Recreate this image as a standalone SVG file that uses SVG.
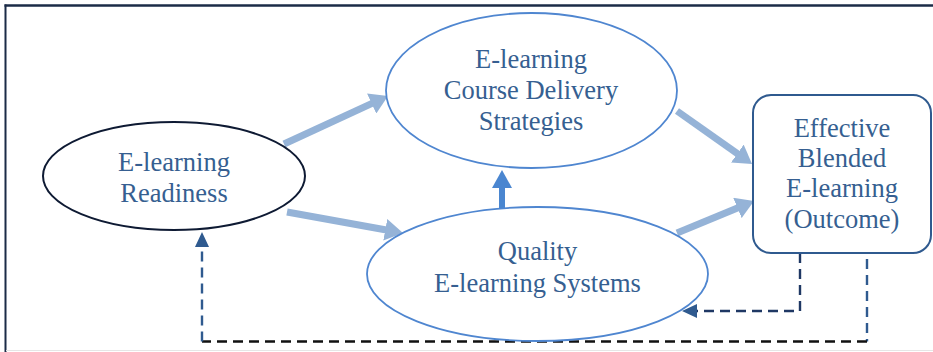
<svg xmlns="http://www.w3.org/2000/svg" width="933" height="352" viewBox="0 0 933 352">
<style>
text{font-family:"Liberation Serif","Times New Roman",serif;font-size:26.5px;fill:#365f91;text-anchor:middle}
.thick{stroke:#95b3d7;stroke-width:7;fill:none}
.dash{fill:none;stroke-width:2.4;stroke-dasharray:10 6}
</style>
<defs>
<marker id="ah" markerUnits="userSpaceOnUse" markerWidth="18" markerHeight="22" refX="4" refY="11" orient="auto" viewBox="0 0 18 22">
<path d="M0,0 L18,11 L0,22 z" fill="#95b3d7"/>
</marker>
<marker id="ah2" markerUnits="userSpaceOnUse" markerWidth="18" markerHeight="20" refX="4" refY="10" orient="auto" viewBox="0 0 18 20">
<path d="M0,0 L18,10 L0,20 z" fill="#4a86d0"/>
</marker>
<marker id="dh" markerUnits="userSpaceOnUse" markerWidth="15" markerHeight="14" refX="2" refY="7" orient="auto" viewBox="0 0 15 14">
<path d="M0,0 L15,7 L0,14 z" fill="#2f5a8f"/>
</marker>
</defs>
<rect x="0" y="0" width="933" height="352" fill="#ffffff"/>
<g id="frame">
<line x1="4.5" y1="5.5" x2="933" y2="5.5" stroke="#1b2b47" stroke-width="2.5"/>
<line x1="5.5" y1="4.5" x2="5.5" y2="352" stroke="#1b2b47" stroke-width="2"/>
<line x1="6" y1="350.5" x2="933" y2="350.5" stroke="#e6e6e6" stroke-width="1"/>
</g>
<g id="connectors">
<line class="thick" x1="284" y1="144" x2="375.3" y2="101.9" marker-end="url(#ah)"/>
<line class="thick" x1="287" y1="212" x2="389.2" y2="230.5" marker-end="url(#ah)"/>
<line class="thick" x1="677" y1="111" x2="740.6" y2="155.9" marker-end="url(#ah)"/>
<line class="thick" x1="677" y1="233" x2="741.1" y2="206.4" marker-end="url(#ah)"/>
<line x1="502" y1="211" x2="502" y2="184" stroke="#4a86d0" stroke-width="6" marker-end="url(#ah2)"/>
<polyline class="dash" stroke="#1f3864" points="800,253 800,311 695,311" marker-end="url(#dh)"/>
<polyline class="dash" stroke="#2f5a8f" points="867,259 867,341.5"/>
<polyline class="dash" stroke="#111111" points="867,341.5 202,341.5"/>
<polyline class="dash" stroke="#2f5a8f" points="202,341.5 202,245" marker-end="url(#dh)"/>
</g>
<g id="readiness">
<ellipse cx="174" cy="176" rx="131" ry="54" fill="#ffffff" stroke="#0e1a33" stroke-width="2"/>
<text x="174" y="171">E-learning</text>
<text x="174" y="202">Readiness</text>
</g>
<g id="delivery">
<ellipse cx="531.5" cy="90.5" rx="145.5" ry="77.5" fill="#ffffff" stroke="#4f86d0" stroke-width="1.8"/>
<text x="531" y="68">E-learning</text>
<text x="531" y="99">Course Delivery</text>
<text x="531" y="130">Strategies</text>
</g>
<g id="quality">
<ellipse cx="537.5" cy="274" rx="170.5" ry="67" fill="#ffffff" stroke="#4f86d0" stroke-width="1.8"/>
<text x="537.5" y="260">Quality</text>
<text x="537.5" y="292">E-learning Systems</text>
</g>
<g id="outcome">
<rect x="753" y="95" width="178" height="158" rx="18" ry="18" fill="#ffffff" stroke="#2f5a8f" stroke-width="2"/>
<text x="842" y="137">Effective</text>
<text x="842" y="167">Blended</text>
<text x="842" y="197">E-learning</text>
<text x="842" y="228">(Outcome)</text>
</g>
</svg>
